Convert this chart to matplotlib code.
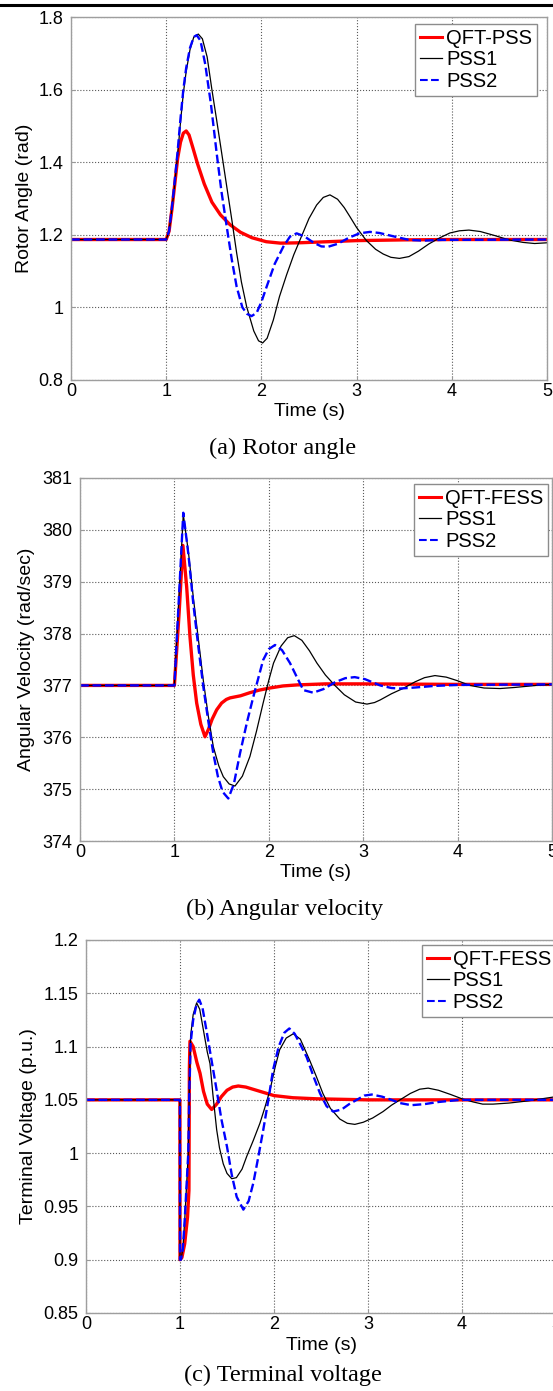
import matplotlib
matplotlib.use("Agg")
import matplotlib.pyplot as plt
from matplotlib.lines import Line2D

# ---------------- data: (a) rotor angle ----------------
t_a_red = [0, 1.0, 1.03, 1.06, 1.09, 1.12, 1.15, 1.18, 1.21, 1.24, 1.28, 1.33, 1.40, 1.48, 1.57,
           1.67, 1.78, 1.90, 2.05, 2.2, 2.4, 2.7, 3.0, 3.5, 4.0, 5.0]
y_a_red = [1.187, 1.187, 1.21, 1.27, 1.34, 1.41, 1.455, 1.48, 1.486, 1.475, 1.44, 1.395, 1.34, 1.29, 1.255,
           1.228, 1.207, 1.192, 1.181, 1.177, 1.178, 1.181, 1.184, 1.186, 1.187, 1.187]
t_a_pss1 = [0, 1.0, 1.03, 1.06, 1.09, 1.12, 1.15, 1.18, 1.21, 1.25, 1.29, 1.337, 1.38, 1.43, 1.48, 1.53,
            1.58, 1.636, 1.69, 1.74, 1.79, 1.845, 1.92, 1.97, 2.013, 2.06, 2.125, 2.19, 2.265, 2.34,
            2.42, 2.5, 2.58, 2.65, 2.72, 2.8, 2.87, 2.93, 3.0, 3.1, 3.2, 3.28, 3.36, 3.45, 3.55, 3.65,
            3.76, 3.876, 3.98, 4.08, 4.18, 4.3, 4.45, 4.6, 4.75, 4.87, 5.0]
y_a_pss1 = [1.187, 1.187, 1.21, 1.27, 1.34, 1.42, 1.51, 1.59, 1.65, 1.71, 1.745, 1.753, 1.74, 1.69, 1.60, 1.516,
            1.43, 1.333, 1.24, 1.15, 1.07, 1.002, 0.935, 0.908, 0.902, 0.915, 0.965, 1.03, 1.09, 1.145,
            1.195, 1.245, 1.282, 1.303, 1.31, 1.298, 1.275, 1.25, 1.22, 1.185, 1.16, 1.147, 1.138, 1.135, 1.14, 1.155,
            1.175, 1.192, 1.205, 1.211, 1.213, 1.209, 1.198, 1.186, 1.179, 1.176, 1.178]
t_a_pss2 = [0, 1.0, 1.03, 1.06, 1.09, 1.12, 1.15, 1.18, 1.21, 1.25, 1.29, 1.32, 1.36, 1.41, 1.47, 1.53,
            1.58, 1.636, 1.69, 1.74, 1.8, 1.85, 1.897, 1.95, 2.0, 2.055, 2.14, 2.23, 2.3, 2.37, 2.45,
            2.55, 2.63, 2.70, 2.8, 2.92, 3.03, 3.14, 3.24, 3.4, 3.55, 3.7, 3.9, 5.0]
y_a_pss2 = [1.187, 1.187, 1.21, 1.275, 1.35, 1.43, 1.52, 1.60, 1.66, 1.715, 1.745, 1.75, 1.735, 1.67, 1.56, 1.425,
            1.32, 1.222, 1.13, 1.057, 1.0, 0.982, 0.976, 0.985, 1.015, 1.057, 1.12, 1.167, 1.195, 1.204, 1.196,
            1.178, 1.168, 1.167, 1.175, 1.192, 1.204, 1.208, 1.205, 1.195, 1.186, 1.184, 1.186, 1.187]

# ---------------- data: (b) angular velocity ----------------
t_b_red = [0, 1.0, 1.05, 1.09, 1.13, 1.165, 1.2, 1.236, 1.28, 1.324, 1.36, 1.40, 1.448, 1.5, 1.55,
           1.59, 1.7, 1.80, 1.9, 2.01, 2.15, 2.3, 2.6, 3.0, 4.0, 5.0]
y_b_red = [377, 377, 378.4, 379.7, 378.9, 377.94, 377.2, 376.66, 376.25, 376.01, 376.15, 376.35, 376.53, 376.66, 376.73,
           376.76, 376.8, 376.86, 376.91, 376.95, 376.99, 377.01, 377.03, 377.03, 377.02, 377.02]
t_b_pss1 = [0, 1.0, 1.094, 1.15, 1.2, 1.25, 1.306, 1.36, 1.412, 1.47, 1.518, 1.58, 1.642, 1.72, 1.80, 1.87,
            1.94, 2.0, 2.05, 2.13, 2.2, 2.27, 2.35, 2.43, 2.51, 2.6, 2.70, 2.8, 2.92, 3.04, 3.12, 3.18,
            3.3, 3.42, 3.55, 3.65, 3.76, 3.88, 4.0, 4.13, 4.28, 4.45, 4.6, 4.83, 5.0]
y_b_pss1 = [377, 377, 380.3, 379.55, 378.7, 377.95, 377.1, 376.4, 375.82, 375.45, 375.24, 375.1, 375.06, 375.25, 375.63, 376.12,
            376.66, 377.1, 377.43, 377.76, 377.92, 377.96, 377.87, 377.67, 377.43, 377.2, 377.0, 376.82, 376.68, 376.64, 376.67, 376.72,
            376.84, 376.94, 377.07, 377.15, 377.19, 377.16, 377.09, 377.0, 376.95, 376.94, 376.96, 377.0, 377.02]
t_b_pss2 = [0, 1.0, 1.094, 1.15, 1.2, 1.25, 1.306, 1.36, 1.412, 1.46, 1.51, 1.571, 1.63, 1.695, 1.77, 1.836,
            1.94, 2.0, 2.066, 2.14, 2.225, 2.3, 2.366, 2.47, 2.58, 2.7, 2.81, 2.91, 3.02, 3.18, 3.3, 3.39,
            3.55, 3.75, 4.0, 5.0]
y_b_pss2 = [377, 377, 380.33, 379.5, 378.58, 377.8, 376.98, 376.3, 375.69, 375.25, 374.95, 374.82, 375.1, 375.69, 376.3, 376.78,
            377.49, 377.7, 377.78, 377.68, 377.43, 377.15, 376.91, 376.86, 376.93, 377.06, 377.14, 377.16, 377.12, 377.0, 376.95, 376.94,
            376.96, 376.99, 377.01, 377.02]

# ---------------- data: (c) terminal voltage ----------------
t_c_red = [0, 0.999, 1.0, 1.02, 1.05, 1.08, 1.095, 1.10, 1.106, 1.14, 1.18, 1.213, 1.25, 1.29, 1.337, 1.39,
           1.44, 1.5, 1.56, 1.62, 1.7, 1.85, 2.0, 2.2, 2.45, 3.0, 5.0]
y_c_red = [1.05, 1.05, 0.9, 0.902, 0.915, 0.94, 0.965, 1.08, 1.105, 1.10, 1.085, 1.075, 1.058, 1.046, 1.041, 1.046,
           1.053, 1.059, 1.062, 1.063, 1.062, 1.058, 1.054, 1.052, 1.051, 1.050, 1.05]
t_c_pss1 = [0, 0.999, 1.0, 1.01, 1.03, 1.05, 1.07, 1.088, 1.1, 1.113, 1.14, 1.177, 1.21, 1.25, 1.29, 1.319,
            1.35, 1.39, 1.42, 1.46, 1.5, 1.55, 1.6, 1.66, 1.71, 1.78, 1.85, 1.9, 1.957, 2.01, 2.06, 2.13,
            2.205, 2.28, 2.38, 2.45, 2.52, 2.6, 2.7, 2.78, 2.86, 2.95, 3.05, 3.16, 3.25, 3.34, 3.45, 3.55,
            3.64, 3.75, 3.88, 4.0, 4.12, 4.22, 4.33, 4.5, 4.7, 4.85, 5.0]
y_c_pss1 = [1.05, 1.05, 0.9, 0.9, 0.91, 0.937, 0.97, 1.0, 1.065, 1.11, 1.13, 1.141, 1.135, 1.115, 1.095, 1.084,
            1.055, 1.022, 1.005, 0.99, 0.981, 0.976, 0.977, 0.985, 0.997, 1.012, 1.028, 1.042, 1.059, 1.08, 1.097, 1.108,
            1.112, 1.107, 1.087, 1.072, 1.056, 1.042, 1.032, 1.028, 1.027, 1.029, 1.033, 1.039, 1.045, 1.05, 1.056, 1.06,
            1.061, 1.059, 1.055, 1.051, 1.048, 1.046, 1.046, 1.047, 1.049, 1.051, 1.053]
t_c_pss2 = [0, 0.999, 1.0, 1.01, 1.03, 1.05, 1.07, 1.088, 1.1, 1.113, 1.14, 1.177, 1.205, 1.24, 1.28, 1.33,
            1.39, 1.44, 1.5, 1.55, 1.603, 1.674, 1.73, 1.78, 1.83, 1.886, 1.94, 1.99, 2.05, 2.11, 2.163, 2.22,
            2.28, 2.348, 2.42, 2.49, 2.56, 2.63, 2.72, 2.8, 2.88, 2.96, 3.04, 3.15, 3.25, 3.34, 3.46, 3.6,
            3.75, 3.98, 5.0]
y_c_pss2 = [1.05, 1.05, 0.9, 0.9, 0.91, 0.937, 0.97, 1.0, 1.06, 1.103, 1.125, 1.14, 1.144, 1.136, 1.116, 1.09,
            1.059, 1.032, 1.006, 0.98, 0.959, 0.947, 0.955, 0.972, 0.995, 1.022, 1.05, 1.078, 1.1, 1.113, 1.117, 1.112,
            1.102, 1.09, 1.072, 1.056, 1.044, 1.039, 1.041, 1.046, 1.05, 1.054, 1.055, 1.053, 1.05, 1.047, 1.045, 1.046,
            1.048, 1.05, 1.05]

# ---------------- labels ----------------
x_ticks = [0, 1, 2, 3, 4, 5]
yticks_a = [0.8, 1.0, 1.2, 1.4, 1.6, 1.8]
ylabels_a = ["0.8", "1", "1.2", "1.4", "1.6", "1.8"]
yticks_b = [374, 375, 376, 377, 378, 379, 380, 381]
ylabels_b = [str(v) for v in yticks_b]
yticks_c = [0.85, 0.9, 0.95, 1.0, 1.05, 1.1, 1.15, 1.2]
ylabels_c = ["0.85", "0.9", "0.95", "1", "1.05", "1.1", "1.15", "1.2"]

W, H = 553, 1391
fig = plt.figure(figsize=(W / 100, H / 100), dpi=100)
SANS = ["Liberation Sans", "DejaVu Sans"]
SERIF = ["Liberation Serif", "DejaVu Serif"]

def make_ax(left, top, right, bottom):
    return fig.add_axes([left / W, (H - bottom) / H, (right - left) / W, (bottom - top) / H])

def style(ax, yticks, ylabels, ylim, ylabel, lab_x, legend_names, leg_anchor):
    ax.set_xlim(0, 5)
    ax.set_ylim(*ylim)
    ax.set_xticks(x_ticks)
    ax.set_xticklabels([str(v) for v in x_ticks], fontfamily=SANS, fontsize=13)
    ax.set_yticks(yticks)
    ax.set_yticklabels(ylabels, fontfamily=SANS, fontsize=13)
    ax.tick_params(axis="both", direction="in", length=3, color="0.6")
    ax.tick_params(axis="x", pad=2)
    ax.tick_params(axis="y", pad=5.5)
    ax.grid(True, linestyle=":", color="0.35", linewidth=0.8)
    for s in ax.spines.values():
        s.set_color("0.62")
        s.set_linewidth(1.0)
    ax.set_ylabel(ylabel, fontfamily=SANS, fontsize=14)
    ax.yaxis.set_label_coords(lab_x, 0.5)
    ax.set_xlabel("Time (s)", fontfamily=SANS, fontsize=14)
    ax.xaxis.set_label_coords(0.5, -0.064)
    handles = [Line2D([], [], color="#ff0000", lw=2.2),
               Line2D([], [], color="black", lw=0.9),
               Line2D([], [], color="#0000ff", lw=1.5, ls="--")]
    leg = ax.legend(handles, legend_names, loc="upper right", bbox_to_anchor=leg_anchor,
                    prop={"family": SANS, "size": 14.5}, fancybox=False, framealpha=1,
                    edgecolor="0.55", handlelength=1.1, handletextpad=0.2, borderpad=0.25,
                    labelspacing=0.12, borderaxespad=0)
    leg.get_frame().set_linewidth(1.0)

def draw(ax, tr, yr, t1, y1, t2, y2):
    ax.plot(tr, yr, color="#ff0000", lw=2.4)
    ax.plot(t1, y1, color="black", lw=0.9)
    ax.plot(t2, y2, color="#0000ff", lw=1.7, ls="--")

# (a)
ax_a = make_ax(71, 17, 547, 380)
draw(ax_a, t_a_red, y_a_red, t_a_pss1, y_a_pss1, t_a_pss2, y_a_pss2)
style(ax_a, yticks_a, ylabels_a, (0.8, 1.8), "Rotor Angle (rad)", -0.080,
      ["QFT-PSS", "PSS1", "PSS2"], (0.979, 0.981))

# (b)
ax_b = make_ax(80, 478, 552, 841)
draw(ax_b, t_b_red, y_b_red, t_b_pss1, y_b_pss1, t_b_pss2, y_b_pss2)
style(ax_b, yticks_b, ylabels_b, (374, 381), "Angular Velocity (rad/sec)", -0.095,
      ["QFT-FESS", "PSS1", "PSS2"], (0.992, 0.984))

# (c)
ax_c = make_ax(86, 940, 556, 1313)
draw(ax_c, t_c_red, y_c_red, t_c_pss1, y_c_pss1, t_c_pss2, y_c_pss2)
style(ax_c, yticks_c, ylabels_c, (0.85, 1.2), "Terminal Voltage (p.u.)", -0.104,
      ["QFT-FESS", "PSS1", "PSS2"], (1.0, 0.987))

# captions
fig.text(283 / W, 1 - 448 / H, "(a) Rotor angle", family=SERIF, fontsize=17.5, ha="center", va="center")
fig.text(285 / W, 1 - 909 / H, "(b) Angular velocity", family=SERIF, fontsize=17.5, ha="center", va="center")
fig.text(283 / W, 1 - 1375 / H, "(c) Terminal voltage", family=SERIF, fontsize=17.5, ha="center", va="center")

# top rule of the page
fig.add_artist(Line2D([0, 1], [1 - 5 / H, 1 - 5 / H], color="black", lw=2.2, transform=fig.transFigure))

fig.savefig("out.png", dpi=100)
